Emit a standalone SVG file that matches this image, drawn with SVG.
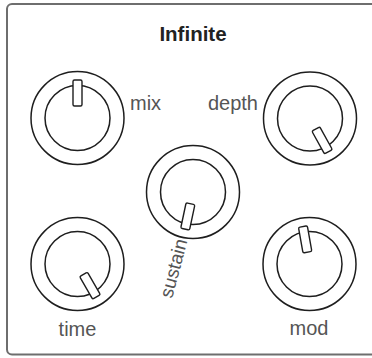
<svg xmlns="http://www.w3.org/2000/svg" width="372" height="358" viewBox="0 0 372 358">
<style>
.frame{fill:#fff;stroke:#6e6e6e;stroke-width:2}
.ring{fill:#fff;stroke:#1e1e1e;stroke-width:1.5}
.ptr{fill:#fff;stroke:#1e1e1e;stroke-width:1.4}
.lbl{font-family:"Liberation Sans",Arial,sans-serif;font-size:20px;fill:#555}
.title{font-family:"Liberation Sans",Arial,sans-serif;font-size:20.5px;font-weight:bold;fill:#222}
</style>
<defs>
<g id="knob">
<circle r="46.5" class="ring"/>
<circle r="32.5" class="ring"/>
</g>
<rect id="ptr" x="-4.5" y="-38" width="9" height="26" rx="1.5" class="ptr"/>
</defs>
<rect class="frame" x="7" y="4" width="372" height="350.5" rx="5"/>
<text class="title" x="193" y="41" text-anchor="middle">Infinite</text>
<g id="mix">
<use href="#knob" x="77.5" y="118"/>
<use href="#ptr" transform="translate(77.5 118)"/>
<text class="lbl" x="130" y="110">mix</text>
</g>
<g id="depth">
<use href="#knob" x="310" y="118.5"/>
<use href="#ptr" transform="translate(310 118.5) rotate(151)"/>
<text class="lbl" x="258" y="110" text-anchor="end">depth</text>
</g>
<g id="sustain">
<use href="#knob" x="193" y="192"/>
<use href="#ptr" transform="translate(193 192) rotate(192)"/>
<text class="lbl" transform="translate(172 299) rotate(-75)" style="font-size:19px">sustain</text>
</g>
<g id="time">
<use href="#knob" x="77.5" y="264"/>
<use href="#ptr" transform="translate(77.5 264) rotate(150)"/>
<text class="lbl" x="77.5" y="336" text-anchor="middle">time</text>
</g>
<g id="mod">
<use href="#knob" x="309.5" y="264"/>
<use href="#ptr" transform="translate(309.5 264) rotate(-10)"/>
<text class="lbl" x="309" y="335" text-anchor="middle">mod</text>
</g>
<g id="connectors"/>
</svg>
